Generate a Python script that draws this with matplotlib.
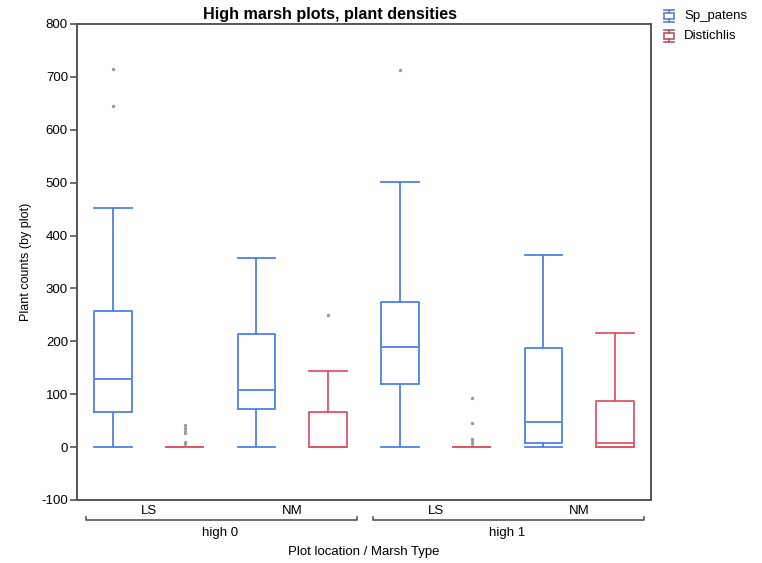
import matplotlib.pyplot as plt
from matplotlib.patches import Rectangle
from matplotlib.lines import Line2D

plt.rcParams['font.family'] = ['Liberation Sans', 'DejaVu Sans']
plt.rcParams['axes.unicode_minus'] = False

# groups along the x axis
locations = ['LS', 'NM', 'LS', 'NM']
marsh = ['high 0', 'high 1']
species = ['Sp_patens', 'Distichlis']
colors = ['#4f80ea', '#e0566a']
legend_colors = ['#5a7fd0', '#b85466']

# box stats: (whislo, q1, med, q3, whishi)
sp_patens = [(0, 67, 128, 258, 452), (0, 73, 108, 213, 358),
             (0, 120, 190, 275, 502), (0, 8, 48, 188, 363)]
distichlis = [(0, 0, 0, 0, 0), (0, 0, 0, 66, 144),
              (0, 0, 0, 0, 0), (0, 0, 8, 88, 216)]
sp_fliers = [[715, 645], [], [713], []]
di_fliers = [[42, 36, 30, 26, 9, 7, 3], [249],
             [93, 45, 15, 13, 8, 3], []]


def make_stats(vals, fl):
    out = []
    for (lo, q1, med, q3, hi), f in zip(vals, fl):
        out.append(dict(whislo=lo, q1=q1, med=med, q3=q3, whishi=hi, fliers=f))
    return out


fig = plt.figure(figsize=(7.62, 5.63), dpi=100)
ax = fig.add_axes([77 / 762, 1 - 500 / 563, (651 - 77) / 762, (500 - 24) / 563])

flier = dict(marker='o', markersize=1.4, markerfacecolor='#999999',
             markeredgecolor='#999999', linestyle='none')
for k, (vals, fl) in enumerate([(sp_patens, sp_fliers), (distichlis, di_fliers)]):
    pos = [2 * i + k for i in range(len(locations))]
    c = colors[k]
    ax.bxp(make_stats(vals, fl), positions=pos, widths=0.52,
           boxprops=dict(color=c, linewidth=1.3),
           whiskerprops=dict(color=c, linewidth=1.3),
           capprops=dict(color=c, linewidth=1.3),
           medianprops=dict(color=c, linewidth=1.3),
           capwidths=0.52, flierprops=flier, showfliers=True)

ax.set_xlim(-0.5, 7.5)
ax.set_ylim(-100, 800)
ax.set_yticks(range(-100, 801, 100))
ax.set_xticks([])
for s in ax.spines.values():
    s.set_color('#555555')
    s.set_linewidth(1.4)
ax.tick_params(axis='y', length=5, width=1.2, color='#555555', labelsize=9.5,
               pad=1.5)
ax.set_ylabel('Plant counts (by plot)', fontsize=9, labelpad=7)
fig.text(330 / 762, 1 - 15 / 563, 'High marsh plots, plant densities',
         fontsize=11.6, fontweight='bold', ha='center', va='center')

# category labels below the axis
fs = 9.5
for i, lab in enumerate(locations):
    ax.text(2 * i + 0.5, -0.01, lab, transform=ax.get_xaxis_transform(),
            ha='center', va='top', fontsize=fs)
for j, lab in enumerate(marsh):
    x0, x1 = 4 * j - 0.38, 4 * j + 3.4
    yb = -0.042
    ax.plot([x0, x0, x1, x1], [yb + 0.006, yb, yb, yb + 0.006], color='#555555',
            linewidth=1.2, transform=ax.get_xaxis_transform(), clip_on=False)
    ax.text(4 * j + 1.5, -0.056, lab, transform=ax.get_xaxis_transform(),
            ha='center', va='top', fontsize=fs)
ax.text(3.5, -0.096, 'Plot location / Marsh Type', transform=ax.get_xaxis_transform(),
        ha='center', va='top', fontsize=fs)

# legend with small box glyphs
W, H = 762, 563
for k, name in enumerate(species):
    cy = 16 + 20 * k
    cx = 669
    c = legend_colors[k]
    fig.add_artist(Rectangle(((cx - 5) / W, 1 - (cy + 3) / H), 10 / W, 6 / H,
                             transform=fig.transFigure, fill=False,
                             edgecolor=c, linewidth=1.2))
    for sgn in (-1, 1):
        fig.add_artist(Line2D([cx / W, cx / W], [1 - (cy + sgn * 3) / H, 1 - (cy + sgn * 6) / H],
                              transform=fig.transFigure, color=c, linewidth=1.2))
        fig.add_artist(Line2D([(cx - 5) / W, (cx + 5) / W], [1 - (cy + sgn * 6) / H] * 2,
                              transform=fig.transFigure, color=c, linewidth=1.2))
    fig.text(684 / W, 1 - cy / H, name, ha='left', va='center', fontsize=fs)

fig.savefig('out.png', dpi=100)
